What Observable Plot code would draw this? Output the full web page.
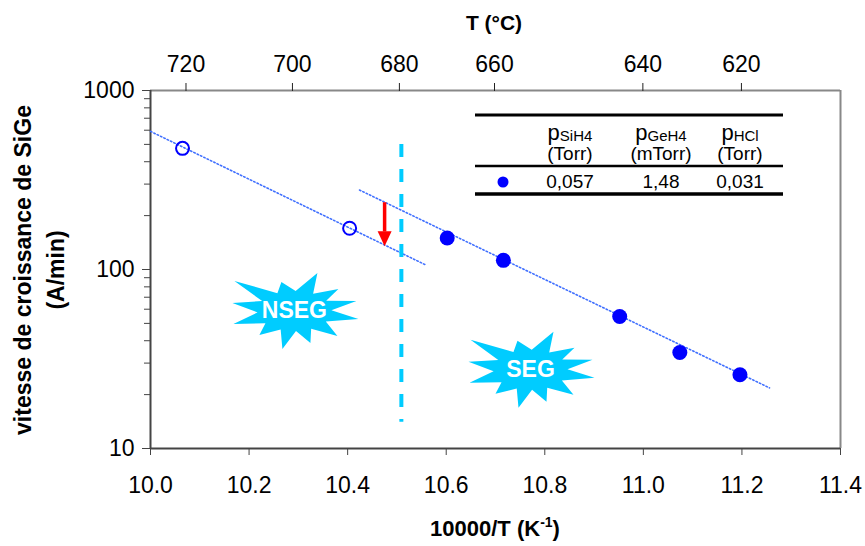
<!DOCTYPE html>
<html><head><meta charset="utf-8">
<script src="https://cdn.jsdelivr.net/npm/d3@7"></script>
<script src="https://cdn.jsdelivr.net/npm/@observablehq/plot@0.6"></script>
<style>body{margin:0;background:#fff} svg{font-family:"Liberation Sans",Arial,sans-serif}</style>
</head><body><div id="chart"></div>
<script>
// ---- data ----
const xTicks = [10.0, 10.2, 10.4, 10.6, 10.8, 11.0, 11.2, 11.4];
const yTicks = [10, 100, 1000];
const yMinorTicks = [20, 30, 40, 50, 60, 70, 80, 90, 200, 300, 400, 500, 600, 700, 800, 900];
const topTickLabels = [720, 700, 680, 660, 640, 620];
const topTickX = [10.072, 10.288, 10.505, 10.698, 10.999, 11.199];
const nsegX = [10.065, 10.404];
const nsegY = [475, 170];
const segX = [10.602, 10.716, 10.952, 11.074, 11.196];
const segY = [150, 112.5, 54.6, 34.4, 25.8];
const trendNsegX = [10.0, 10.56];
const trendNsegY = [591, 105.5];
const trendSegX = [10.424, 11.256];
const trendSegY = [278, 21.8];
const boundaryX = [10.509];
const boundaryY = [500, 14];
const arrowX = [10.475];
const arrowY = [236, 162, 135];
const regionLabels = ["NSEG", "SEG"];
const regionX = [10.292, 10.771];
const regionY = [58.7, 27.5];
const legendGases = ["SiH4", "GeH4", "HCl"];
const legendUnits = ["(Torr)", "(mTorr)", "(Torr)"];
const legendValues = ["0,057", "1,48", "0,031"];
const xTitle = "10000/T (K";
const yTitle = ["vitesse de croissance de SiGe", "(A/min)"];
const topTitle = "T (°C)";

// ---- build tables ----
const pts = (xs, ys) => xs.map((x, i) => ({x, y: ys[i]}));
const nseg = pts(nsegX, nsegY);
const seg = pts(segX, segY);
const trendNseg = pts(trendNsegX, trendNsegY);
const trendSeg = pts(trendSegX, trendSegY);
const regions = regionLabels.map((label, i) => ({label, x: regionX[i], y: regionY[i]}));
const topLabelMap = new Map(topTickX.map((x, i) => [x, String(topTickLabels[i])]));

// starburst shape (template, px relative to centre)
const spikes = [[-60,-30],[-13,-29],[23,-38],[44,-22],[62,-10],[64,8],[43,25],[16,32],[-12,38],[-35,24],[-61,13],[-62,-8]];
function starSymbol(outer, rx, ry) {
  const P = [];
  for (let i = 0; i < outer.length; i++) {
    const a = outer[i], b = outer[(i + 1) % outer.length];
    P.push(a);
    const la = Math.hypot(a[0], a[1]), lb = Math.hypot(b[0], b[1]);
    const ang = Math.atan2(a[1] / la + b[1] / lb, a[0] / la + b[0] / lb);
    const c = Math.cos(ang), s = Math.sin(ang);
    const r = 1 / Math.sqrt(c * c / (rx * rx) + s * s / (ry * ry));
    P.push([r * c, r * s]);
  }
  return {draw(ctx, size) {
    const k = Math.sqrt(size / Math.PI);
    P.forEach((p, i) => i ? ctx.lineTo(p[0] * k, p[1] * k) : ctx.moveTo(p[0] * k, p[1] * k));
    ctx.closePath();
  }};
}
const star = starSymbol(spikes, 37, 20);
const arrowHead = {draw(ctx, size) {
  const k = Math.sqrt(size / Math.PI);
  ctx.moveTo(0, 0); ctx.lineTo(-7 * k, -15 * k); ctx.lineTo(7 * k, -15 * k); ctx.closePath();
}};

const blue = "#0000FF", cyan = "#00CCFF", trendColor = "#4070FF";

const chart = Plot.plot({
  width: 865, height: 546,
  marginLeft: 150, marginRight: 25, marginTop: 90, marginBottom: 98,
  style: {fontFamily: "Liberation Sans, Arial, sans-serif", fontSize: "23px", color: "#000", background: "#fff", overflow: "visible"},
  x: {domain: [10, 11.4]},
  y: {type: "log", domain: [10, 1000]},
  marks: [
    Plot.ruleY([1000], {stroke: "#888", strokeWidth: 2}),
    Plot.ruleX([11.4], {stroke: "#888", strokeWidth: 2}),
    Plot.ruleX([10], {stroke: "#444", strokeWidth: 2}),
    Plot.ruleY([10], {stroke: "#444", strokeWidth: 2}),
    Plot.dot(regions, {x: "x", y: "y", symbol: star, r: 1, fill: cyan, stroke: "none"}),
    Plot.text(regions, {x: "x", y: "y", text: "label", fill: "white", fontWeight: "bold", fontSize: 23}),
    Plot.line(trendNseg, {x: "x", y: "y", stroke: trendColor, strokeWidth: 1.6, strokeDasharray: "1.5 2.2"}),
    Plot.line(trendSeg, {x: "x", y: "y", stroke: trendColor, strokeWidth: 1.6, strokeDasharray: "1.5 2.2"}),
    Plot.ruleX([{x: boundaryX[0], y1: boundaryY[0], y2: boundaryY[1]}], {x: "x", y1: "y1", y2: "y2", stroke: cyan, strokeWidth: 4, strokeDasharray: "13 12"}),
    Plot.ruleX([{x: arrowX[0], y1: arrowY[0], y2: arrowY[1]}], {x: "x", y1: "y1", y2: "y2", stroke: "red", strokeWidth: 3.5}),
    Plot.dot([{x: arrowX[0], y: arrowY[2]}], {x: "x", y: "y", symbol: arrowHead, r: 1, fill: "red", stroke: "none"}),
    Plot.dot(nseg, {x: "x", y: "y", r: 6.5, stroke: blue, strokeWidth: 2, fill: "none"}),
    Plot.dot(seg, {x: "x", y: "y", r: 7.5, fill: blue, stroke: "none"}),
    Plot.axisX(xTicks, {anchor: "bottom", tickSize: 7, tickPadding: 21, tickFormat: d => d.toFixed(1), fontSize: 23, label: null, stroke: "#444"}),
    Plot.axisX(topTickX, {anchor: "top", tickSize: 8, tickPadding: 11, tickFormat: d => topLabelMap.get(d), fontSize: 23, label: null, stroke: "#222"}),
    Plot.axisY(yTicks, {tickSize: 8, tickPadding: 8, tickFormat: d => String(d), fontSize: 23, label: null, stroke: "#444"}),
    Plot.axisY(yMinorTicks, {tickSize: 6, tickFormat: () => "", label: null, stroke: "#444"})
  ]
});
document.getElementById("chart").append(chart);

// ---- titles & legend table ----
const svg = d3.select(chart);
const xt = svg.append("text").attr("x", 495).attr("y", 536).attr("text-anchor", "middle")
  .attr("font-size", 22).attr("font-weight", "bold");
xt.append("tspan").text(xTitle);
xt.append("tspan").attr("dy", -9).attr("font-size", 14).text("-1");
xt.append("tspan").attr("dy", 9).text(")");

svg.append("text").attr("x", 494).attr("y", 30).attr("text-anchor", "middle")
  .attr("font-size", 21).attr("font-weight", "bold").text(topTitle);

yTitle.forEach((t, i) => {
  svg.append("text").attr("transform", `translate(${31 + i * 33},270) rotate(-90)`)
    .attr("text-anchor", "middle").attr("font-size", 23).attr("font-weight", "bold").text(t);
});

const lg = svg.append("g");
lg.append("line").attr("x1", 475).attr("x2", 783).attr("y1", 115).attr("y2", 115).attr("stroke", "#000").attr("stroke-width", 3);
lg.append("line").attr("x1", 475).attr("x2", 783).attr("y1", 166).attr("y2", 166).attr("stroke", "#000").attr("stroke-width", 2.5);
lg.append("line").attr("x1", 475).attr("x2", 783).attr("y1", 194).attr("y2", 194).attr("stroke", "#000").attr("stroke-width", 3.5);
const colX = [570, 661, 740];
legendGases.forEach((g, i) => {
  const h = lg.append("text").attr("x", colX[i]).attr("y", 140).attr("text-anchor", "middle").attr("font-size", 22);
  h.append("tspan").text("p");
  h.append("tspan").attr("font-size", 15).attr("dy", 1).text(g);
  lg.append("text").attr("x", colX[i]).attr("y", 160).attr("text-anchor", "middle").attr("font-size", 19).text(legendUnits[i]);
  lg.append("text").attr("x", colX[i]).attr("y", 188).attr("text-anchor", "middle").attr("font-size", 19).text(legendValues[i]);
});
lg.append("circle").attr("cx", 503).attr("cy", 182).attr("r", 5.5).attr("fill", blue);
</script>
</body></html>
